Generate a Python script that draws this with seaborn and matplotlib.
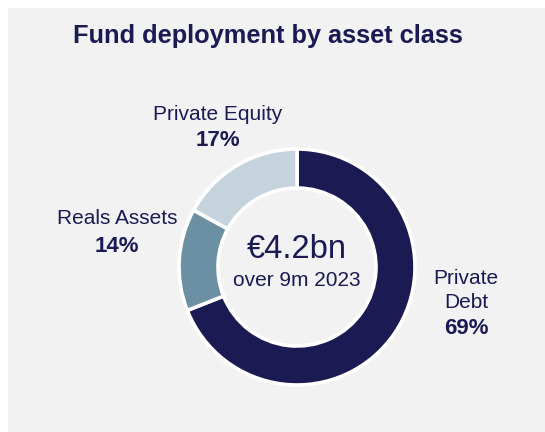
import matplotlib
matplotlib.use("Agg")
import matplotlib.pyplot as plt
import seaborn as sns
from matplotlib.patches import Rectangle

categories = ["Private Debt", "Reals Assets", "Private Equity"]
shares = [69, 14, 17]
label_lines = [["Private", "Debt"], ["Reals Assets"], ["Private Equity"]]
title = "Fund deployment by asset class"
center_big = "€4.2bn"
center_small = "over 9m 2023"

sns.set_theme(style="white")
plt.rcParams['font.family'] = ['Liberation Sans', 'DejaVu Sans']

navy = "#1b1a52"
colors = [navy, "#6b8fa3", "#c5d3dc"]

W, H = 545, 432
fig = plt.figure(figsize=(W / 100, H / 100), dpi=100, facecolor="white")
ax = fig.add_axes([0, 0, 1, 1])

cx, cy, R = 297, H - 267, 118
ring = 39
ax.pie(shares, colors=colors, startangle=90, counterclock=False,
       radius=R, center=(cx, cy), frame=True,
       wedgeprops=dict(width=ring, edgecolor="white", linewidth=2.6))
ax.set_xlim(0, W)
ax.set_ylim(0, H)
ax.set_aspect("equal")
ax.axis("off")

ax.add_patch(Rectangle((8, 0), W - 8, H - 8, facecolor="#f2f2f2", edgecolor="none", zorder=0))

ax.text(268, H - 36, title, ha="center", va="center", fontsize=18.3,
        fontweight="bold", color=navy)

ax.text(cx, H - 250, center_big, ha="center", va="center", fontsize=23.5, color=navy)
ax.text(cx, H - 281, center_small, ha="center", va="center", fontsize=15, color=navy)

# labels
pos = {
    "Private Debt": (466, [H - 278, H - 302], H - 328),
    "Reals Assets": (117, [H - 219], H - 246),
    "Private Equity": (218, [H - 115], H - 141),
}
for cat, val, lines in zip(categories, shares, label_lines):
    x, ys, yp = pos[cat]
    for line, y in zip(lines, ys):
        ax.text(x, y, line, ha="center", va="center", fontsize=15, color=navy)
    ax.text(x, yp, f"{val}%", ha="center", va="center", fontsize=16,
            fontweight="bold", color=navy)

fig.savefig("out.png", dpi=100, facecolor="white")
